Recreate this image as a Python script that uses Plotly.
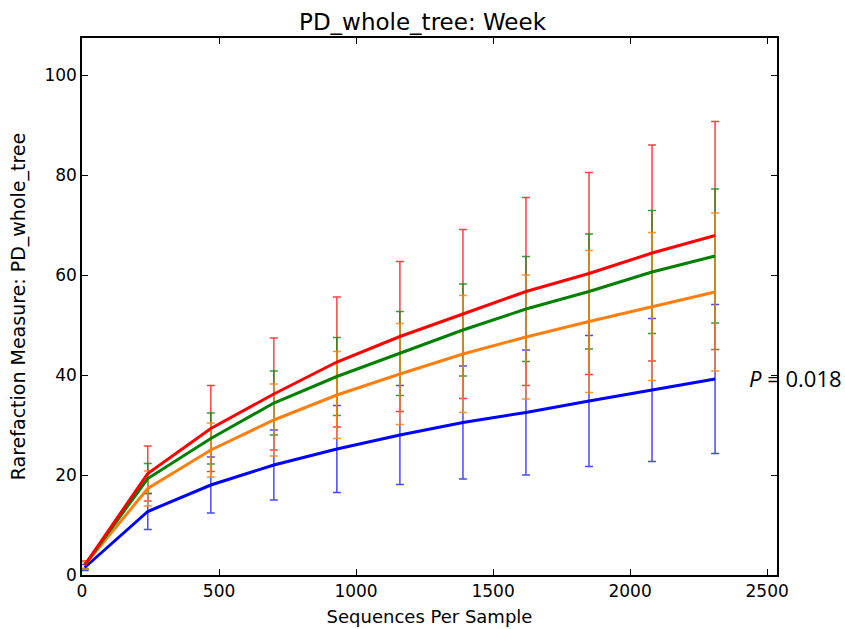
import plotly.graph_objects as go

seqs = [10, 240, 470, 700, 930, 1160, 1390, 1620, 1850, 2080, 2310]

red_mean = [2.0, 20.3, 29.3, 36.2, 42.6, 47.7, 52.2, 56.7, 60.3, 64.4, 67.9]
red_err = [0.8, 5.5, 8.6, 11.2, 13.0, 15.0, 16.9, 18.8, 20.2, 21.6, 22.8]

green_mean = [2.0, 19.3, 27.3, 34.4, 39.7, 44.3, 49.0, 53.2, 56.7, 60.6, 63.8]
green_err = [0.7, 3.0, 5.1, 6.4, 7.8, 8.4, 9.2, 10.5, 11.5, 12.3, 13.4]

orange_mean = [2.0, 17.3, 25.0, 31.0, 36.0, 40.2, 44.2, 47.6, 50.7, 53.7, 56.6]
orange_err = [0.8, 3.5, 5.4, 7.2, 8.7, 10.1, 11.7, 12.4, 14.2, 14.8, 15.8]

blue_mean = [1.5, 12.7, 18.0, 22.0, 25.2, 28.0, 30.5, 32.5, 34.8, 37.0, 39.2]
blue_err = [0.6, 3.6, 5.6, 7.0, 8.7, 9.9, 11.3, 12.5, 13.1, 14.3, 14.9]

series = [
    ("blue", blue_mean, blue_err, "#0000FF", "rgba(40,40,255,0.85)"),
    ("red", red_mean, red_err, "#FF0000", "rgba(255,30,30,0.85)"),
    ("green", green_mean, green_err, "#008000", "rgba(20,140,20,0.85)"),
    ("orange", orange_mean, orange_err, "#FF7F0E", "rgba(255,135,25,0.9)"),
]

fig = go.Figure()

# error bars first (orange ends on top)
for name, m, e, c, ec in series:
    fig.add_trace(go.Scatter(
        x=seqs, y=m, mode="markers",
        marker=dict(size=1, color="rgba(0,0,0,0)"),
        error_y=dict(type="data", array=e, visible=True, color=ec,
                     thickness=1.5, width=4),
        showlegend=False, hoverinfo="skip"))

# lines on top
for name, m, e, c, ec in [series[0], series[3], series[2], series[1]]:
    fig.add_trace(go.Scatter(
        x=seqs, y=m, mode="lines", line=dict(color=c, width=3),
        showlegend=False, name=name))

tickfont = dict(family="DejaVu Sans", size=17, color="black")

fig.update_layout(
    width=845, height=629,
    paper_bgcolor="white", plot_bgcolor="white",
    margin=dict(l=82, r=68, t=38, b=54),
    title=dict(text="PD_whole_tree: Week", x=0.5, xanchor="center",
               y=1 - 22 / 629, yanchor="middle", yref="container",
               font=dict(family="DejaVu Sans", size=23, color="black")),
    xaxis=dict(range=[0, 2536], tickvals=[0, 500, 1000, 1500, 2000, 2500],
               ticks="inside", ticklen=6, tickcolor="black", tickwidth=1,
               showline=True, linecolor="black", linewidth=1.5,
               mirror="allticks", showgrid=False, zeroline=False,
               tickfont=tickfont, automargin=False,
               title=dict(text="Sequences Per Sample", standoff=10,
                          font=dict(family="DejaVu Sans", size=18, color="black"))),
    yaxis=dict(range=[0, 107.4], tickvals=[0, 20, 40, 60, 80, 100],
               ticks="inside", ticklen=6, tickcolor="black", tickwidth=1,
               showline=True, linecolor="black", linewidth=1.5,
               mirror="allticks", showgrid=False, zeroline=False,
               tickfont=tickfont, automargin=False,
               title=dict(text="Rarefaction Measure: PD_whole_tree", standoff=14,
                          font=dict(family="DejaVu Sans", size=19, color="black"))),
    annotations=[dict(
        text="<i>P</i> = 0.018", xref="paper", yref="y",
        x=1.0, y=39.4, xanchor="left", yanchor="middle", xshift=-30,
        showarrow=False,
        font=dict(family="Open Sans", size=22, color="black"))],
)

fig.write_html("out.html")
